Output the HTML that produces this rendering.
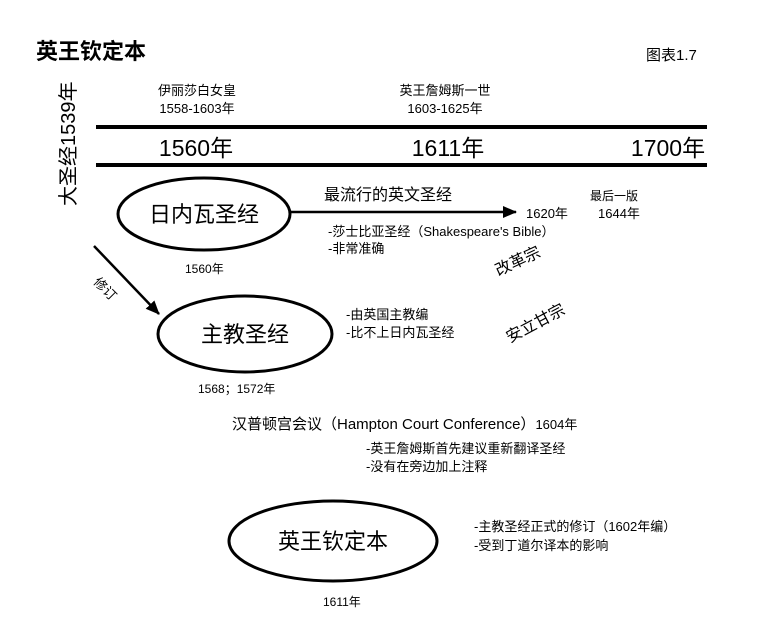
<!DOCTYPE html>
<html><head><meta charset="utf-8"><style>
html,body{margin:0;padding:0;background:#fff;}
svg{display:block;font-family:"Liberation Sans","Noto Sans CJK SC",sans-serif;}
</style></head><body>
<svg width="764" height="619" viewBox="0 0 764 619" xmlns="http://www.w3.org/2000/svg">
<defs><marker id="ah" markerWidth="14" markerHeight="12" refX="13" refY="6" orient="auto" markerUnits="userSpaceOnUse"><path d="M0,0 L14,6 L0,12 Z" fill="#000"/></marker></defs>
<text x="36" y="59" font-size="22" font-weight="bold">英王钦定本</text>
<text x="646" y="60" font-size="15">图表1.7</text>
<text transform="translate(75,206) rotate(-90)" font-size="20">大圣经1539年</text>
<text x="197" y="95" font-size="13" text-anchor="middle">伊丽莎白女皇</text>
<text x="197" y="113" font-size="13" text-anchor="middle">1558-1603年</text>
<text x="445" y="95" font-size="13" text-anchor="middle">英王詹姆斯一世</text>
<text x="445" y="113" font-size="13" text-anchor="middle">1603-1625年</text>
<line x1="96" y1="127" x2="707" y2="127" stroke="#000" stroke-width="4"/>
<line x1="96" y1="165" x2="707" y2="165" stroke="#000" stroke-width="4"/>
<text x="196" y="156" font-size="23" text-anchor="middle">1560年</text>
<text x="448" y="156" font-size="23" text-anchor="middle">1611年</text>
<text x="668" y="156" font-size="23" text-anchor="middle">1700年</text>
<ellipse cx="204" cy="214" rx="86" ry="36" fill="none" stroke="#000" stroke-width="3"/>
<text x="204" y="222" font-size="22" text-anchor="middle">日内瓦圣经</text>
<line x1="290" y1="212" x2="516" y2="212" stroke="#000" stroke-width="2.5" marker-end="url(#ah)"/>
<text x="324" y="200" font-size="16">最流行的英文圣经</text>
<text x="526" y="218" font-size="13">1620年</text>
<text x="590" y="200" font-size="12">最后一版</text>
<text x="598" y="218" font-size="13">1644年</text>
<text x="328" y="236" font-size="13">-莎士比亚圣经（Shakespeare's Bible）</text>
<text x="328" y="253" font-size="13">-非常准确</text>
<text transform="translate(520,266) rotate(-25)" font-size="16" text-anchor="middle">改革宗</text>
<text transform="translate(538,328) rotate(-28)" font-size="16" text-anchor="middle">安立甘宗</text>
<text x="185" y="273" font-size="12">1560年</text>
<line x1="94" y1="246" x2="159" y2="314" stroke="#000" stroke-width="2.5" marker-end="url(#ah)"/>
<text transform="translate(102,292) rotate(45)" font-size="13" text-anchor="middle">修订</text>
<ellipse cx="245" cy="334" rx="87" ry="38" fill="none" stroke="#000" stroke-width="3"/>
<text x="245" y="342" font-size="22" text-anchor="middle">主教圣经</text>
<text x="346" y="319" font-size="13">-由英国主教编</text>
<text x="346" y="337" font-size="13">-比不上日内瓦圣经</text>
<text x="198" y="393" font-size="12">1568；1572年</text>
<text x="232" y="429" font-size="15">汉普顿宫会议（Hampton Court Conference）<tspan font-size="13">1604年</tspan></text>
<text x="366" y="453" font-size="13">-英王詹姆斯首先建议重新翻译圣经</text>
<text x="366" y="471" font-size="13">-没有在旁边加上注释</text>
<ellipse cx="333" cy="541" rx="104" ry="40" fill="none" stroke="#000" stroke-width="3"/>
<text x="333" y="549" font-size="22" text-anchor="middle">英王钦定本</text>
<text x="474" y="531" font-size="13">-主教圣经正式的修订（1602年编）</text>
<text x="474" y="550" font-size="13">-受到丁道尔译本的影响</text>
<text x="323" y="606" font-size="12">1611年</text>
</svg>
</body></html>
